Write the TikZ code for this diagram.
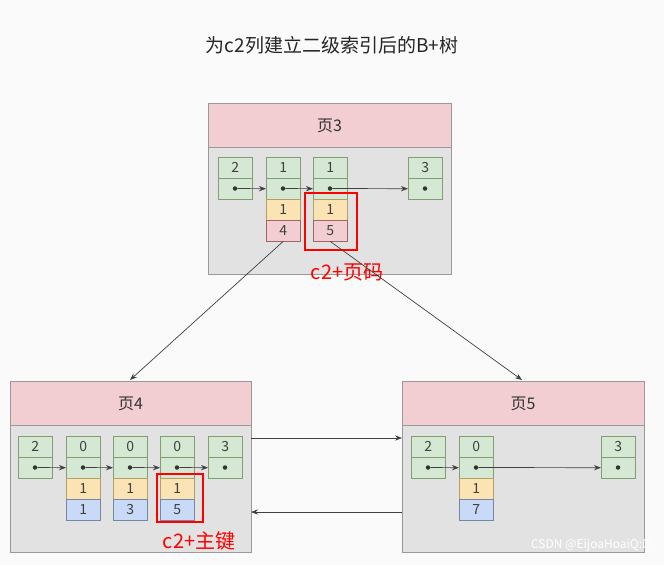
\documentclass[tikz,border=0pt]{standalone}
\usepackage{fontspec}
\setmainfont{Noto Sans CJK SC}
\usetikzlibrary{arrows.meta}
\definecolor{gr}{HTML}{D5E8D4}\definecolor{grd}{HTML}{82B366}
\definecolor{ye}{HTML}{FBE3B3}\definecolor{yed}{HTML}{D6B656}
\definecolor{pk}{HTML}{F2CDD2}\definecolor{pkd}{HTML}{B85450}
\definecolor{bl}{HTML}{C9DAF8}\definecolor{bld}{HTML}{6C8EBF}
\definecolor{pg}{HTML}{E2E2E2}
\begin{document}
\begin{tikzpicture}[x=1pt,y=-1pt,
 cell/.style={minimum width=34pt,minimum height=21pt,inner sep=0pt,draw=#1!60!gray,line width=0.4pt,font=\fontsize{14}{14}\selectfont,text=black!75},
 dotc/.style={circle,fill=black!80,inner sep=0pt,minimum size=4.5pt},
 lnk/.style={-{Stealth[length=7pt]},black!75,line width=0.7pt},
 page/.style={fill=pg,draw=black!40},
 head/.style={fill=pk,draw=black!40},
 redbox/.style={draw=red,line width=1.3pt}]
\fill[gray!4] (0,0) rectangle (664,565);
\useasboundingbox (0,0) rectangle (664,565);
\node[font=\fontsize{19}{19}\selectfont,text=black!85] (title) at (332,45) {为c2列建立二级索引后的B+树};
\newcommand\pagebox[4]{%
 \draw[page] (#1,#2) rectangle (#3,552-381+#2);
 \draw[head] (#1,#2) rectangle (#3,#2+44);
 \node[font=\fontsize{16}{16}\selectfont,text=black!80] at ({(#1+#3)/2},#2+23) {#4};}
\pagebox{208}{103}{451}{页3}
\pagebox{10}{381}{251}{页4}
\pagebox{402}{381}{644}{页5}
\newcommand\keycell[4]{%
 \node[cell=grd,fill=gr,anchor=north west] (#1k) at (#2,#3) {#4};
 \node[cell=grd,fill=gr,anchor=north west] (#1p) at (#2,#3+21) {};
 \node[dotc] (#1d) at (#2+17,#3+31.5) {};}
% page 3
\keycell{a}{218}{157}{2}\keycell{b}{266}{157}{1}\keycell{c}{313}{157}{1}\keycell{d}{408}{157}{3}
\node[cell=yed,fill=ye,anchor=north west] (by) at (266,199) {1};
\node[cell=pkd,fill=pk,anchor=north west] (bz) at (266,220) {4};
\node[cell=yed,fill=ye,anchor=north west] (cy) at (313,199) {1};
\node[cell=pkd,fill=pk,anchor=north west] (cz) at (313,220) {5};
\draw[lnk] (ad) -- (bp.west);\draw[lnk] (bd) -- (cp.west);\draw[lnk] (cd) -- (dp.west);
\draw[redbox] (305,193) rectangle (357,250);
\node[text=red,font=\fontsize{20}{20}\selectfont] (l1) at (347,272) {c2+页码};
% page 4
\keycell{e}{18}{436}{2}\keycell{f}{66}{436}{0}\keycell{g}{113}{436}{0}\keycell{h}{160}{436}{0}\keycell{i}{208}{436}{3}
\foreach \n/\x/\v in {f/66/1,g/113/3,h/160/5}{
 \node[cell=yed,fill=ye,anchor=north west] (\n y) at (\x,478) {1};
 \node[cell=bld,fill=bl,anchor=north west] (\n z) at (\x,499) {\v};}
\draw[lnk] (ed) -- (fp.west);\draw[lnk] (fd) -- (gp.west);\draw[lnk] (gd) -- (hp.west);\draw[lnk] (hd) -- (ip.west);
\draw[redbox] (157,474) rectangle (203,522);
\node[text=red,font=\fontsize{20}{20}\selectfont] (l2) at (199,541) {c2+主键};
% page 5
\keycell{j}{411}{436}{2}\keycell{k}{459}{436}{0}\keycell{m}{601}{436}{3}
\node[cell=yed,fill=ye,anchor=north west] (ky) at (459,478) {1};
\node[cell=bld,fill=bl,anchor=north west] (kz) at (459,499) {7};
\draw[lnk] (jd) -- (kp.west);\draw[lnk] (kd) -- (mp.west);
% page links
\coordinate (p4t) at (130,380);\coordinate (p5t) at (522,380);
\draw[lnk] (bz.south) -- (p4t);
\draw[lnk] (cz.south) -- (p5t);
\coordinate (r1a) at (251,438);\coordinate (r1b) at (402,438);
\coordinate (r2a) at (402,512);\coordinate (r2b) at (251,512);
\draw[lnk] (r1a) -- (r1b);\draw[lnk] (r2a) -- (r2b);
\node[text=white,font=\fontsize{12}{12}\selectfont,anchor=east] (wm) at (654,545) {CSDN @EijoaHoaiQ:D};
\end{tikzpicture}
\end{document}
